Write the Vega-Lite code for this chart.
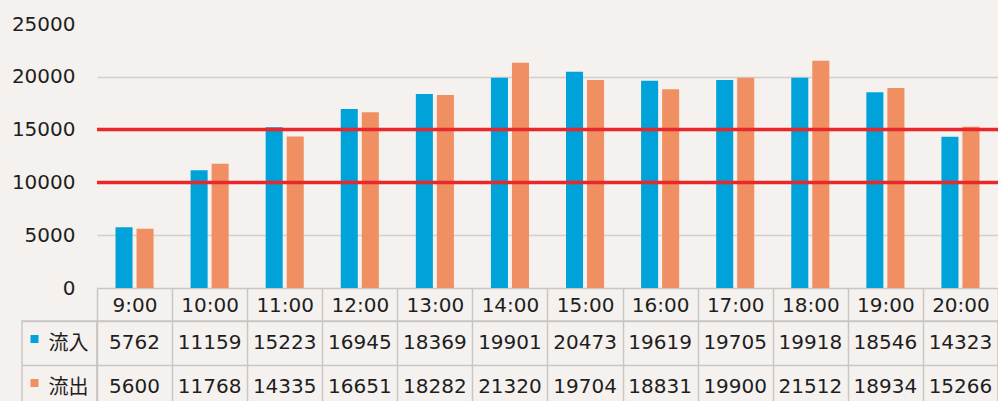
{
  "$schema": "https://vega.github.io/schema/vega-lite/v6.json",
  "background": "#f5f1ee",
  "padding": {"left": 11, "top": 14, "right": 0, "bottom": 0},
  "autosize": {"type": "pad"},
  "config": {"view": {"stroke": null}, "font": "DejaVu Sans"},
  "datasets": {
    "traffic": [
      {"time": "9:00", "series": "流入", "value": 5762},
      {"time": "10:00", "series": "流入", "value": 11159},
      {"time": "11:00", "series": "流入", "value": 15223},
      {"time": "12:00", "series": "流入", "value": 16945},
      {"time": "13:00", "series": "流入", "value": 18369},
      {"time": "14:00", "series": "流入", "value": 19901},
      {"time": "15:00", "series": "流入", "value": 20473},
      {"time": "16:00", "series": "流入", "value": 19619},
      {"time": "17:00", "series": "流入", "value": 19705},
      {"time": "18:00", "series": "流入", "value": 19918},
      {"time": "19:00", "series": "流入", "value": 18546},
      {"time": "20:00", "series": "流入", "value": 14323},
      {"time": "9:00", "series": "流出", "value": 5600},
      {"time": "10:00", "series": "流出", "value": 11768},
      {"time": "11:00", "series": "流出", "value": 14335},
      {"time": "12:00", "series": "流出", "value": 16651},
      {"time": "13:00", "series": "流出", "value": 18282},
      {"time": "14:00", "series": "流出", "value": 21320},
      {"time": "15:00", "series": "流出", "value": 19704},
      {"time": "16:00", "series": "流出", "value": 18831},
      {"time": "17:00", "series": "流出", "value": 19900},
      {"time": "18:00", "series": "流出", "value": 21512},
      {"time": "19:00", "series": "流出", "value": 18934},
      {"time": "20:00", "series": "流出", "value": 15266}
    ],
    "limits": [{"limit": 15000}, {"limit": 10000}],
    "legendRows": [{"series": "流入"}, {"series": "流出"}]
  },
  "bounds": "flush",
  "columns": 2,
  "spacing": {"row": 33, "column": 0},
  "concat": [
    {
      "width": 75,
      "height": 264,
      "data": {"values": []},
      "mark": {"type": "point", "opacity": 0},
      "encoding": {}
    },
    {
      "width": 901,
      "height": 264,
      "layer": [
        {
          "data": {"name": "traffic"},
          "mark": {"type": "bar"},
          "encoding": {
            "x": {
              "field": "time", "type": "nominal",
              "sort": ["9:00","10:00","11:00","12:00","13:00","14:00","15:00","16:00","17:00","18:00","19:00","20:00"],
              "scale": {"paddingInner": 0, "paddingOuter": 0},
              "axis": {
                "title": null, "labelAngle": 0, "labelFontSize": 20, "labelColor": "#1e1e1e",
                "labelBaseline": "middle", "labelPadding": -16,
                "domain": true, "domainColor": "#c9c6c4", "domainWidth": 1.5,
                "ticks": true, "tickBand": "extent", "tickSize": 33, "tickColor": "#c9c6c4", "tickWidth": 1.5,
                "grid": false
              }
            },
            "xOffset": {
              "field": "series", "type": "nominal", "sort": ["流入", "流出"],
              "scale": {"paddingInner": 0.19, "paddingOuter": 0.88}
            },
            "y": {
              "field": "value", "type": "quantitative",
              "scale": {"domain": [0, 25000], "nice": false},
              "axis": {
                "title": null, "values": [0, 5000, 10000, 15000, 20000, 25000], "format": "d",
                "labelFontSize": 20, "labelColor": "#1e1e1e", "labelPadding": 22,
                "domain": false, "ticks": false, "tickSize": 0,
                "grid": true, "gridWidth": 1.5,
                "gridColor": {"condition": {"test": "datum.value == 25000 || datum.value == 0", "value": "transparent"}, "value": "#d3cfcd"}
              }
            },
            "color": {
              "field": "series", "type": "nominal",
              "scale": {"domain": ["流入", "流出"], "range": ["#00a3d9", "#f08f62"]},
              "legend": null
            }
          }
        },
        {
          "data": {"name": "limits"},
          "mark": {"type": "rule", "color": "#e8282b", "strokeWidth": 3.5},
          "encoding": {"y": {"field": "limit", "type": "quantitative"}}
        }
      ]
    },
    {
      "width": 75,
      "height": 88,
      "view": {"stroke": "#c9c6c4", "strokeWidth": 1.5},
      "data": {"name": "legendRows"},
      "layer": [
        {
          "mark": {"type": "square", "size": 64, "filled": true, "opacity": 1, "xOffset": -25, "yOffset": -4},
          "encoding": {
            "y": {
              "field": "series", "type": "nominal", "sort": ["流入", "流出"],
              "scale": {"paddingInner": 0, "paddingOuter": 0},
              "axis": {"title": null, "labels": false, "ticks": false, "domain": false, "grid": true, "tickBand": "extent", "gridColor": "#c9c6c4", "gridWidth": 1.5}
            },
            "color": {
              "field": "series", "type": "nominal",
              "scale": {"domain": ["流入", "流出"], "range": ["#00a3d9", "#f08f62"]},
              "legend": null
            }
          }
        },
        {
          "mark": {"type": "text", "fontSize": 20, "font": "Noto Sans CJK JP", "color": "#1e1e1e", "dx": 9, "dy": 1},
          "encoding": {
            "y": {"field": "series", "type": "nominal", "sort": ["流入", "流出"]},
            "text": {"field": "series"}
          }
        }
      ]
    },
    {
      "width": 901,
      "height": 88,
      "view": {"stroke": "#c9c6c4", "strokeWidth": 1.5},
      "data": {"name": "traffic"},
      "mark": {"type": "text", "fontSize": 20, "color": "#1e1e1e"},
      "encoding": {
        "x": {
          "field": "time", "type": "nominal",
          "sort": ["9:00","10:00","11:00","12:00","13:00","14:00","15:00","16:00","17:00","18:00","19:00","20:00"],
          "scale": {"paddingInner": 0, "paddingOuter": 0},
          "axis": {"title": null, "labels": false, "ticks": false, "domain": false, "grid": true, "tickBand": "extent", "gridColor": "#c9c6c4", "gridWidth": 1.5}
        },
        "y": {
          "field": "series", "type": "nominal", "sort": ["流入", "流出"],
          "scale": {"paddingInner": 0, "paddingOuter": 0},
          "axis": {"title": null, "labels": false, "ticks": false, "domain": false, "grid": true, "tickBand": "extent", "gridColor": "#c9c6c4", "gridWidth": 1.5}
        },
        "text": {"field": "value", "type": "quantitative", "format": "d"}
      }
    }
  ]
}
